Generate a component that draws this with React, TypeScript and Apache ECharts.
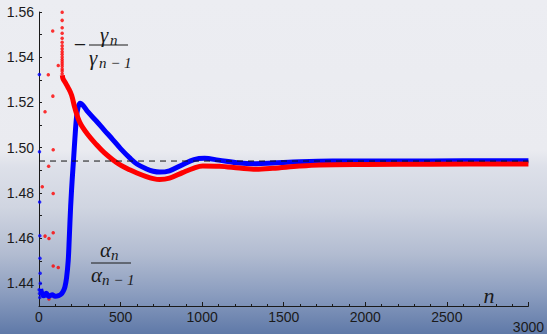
import React, { useEffect, useRef } from "react";
import * as echarts from "echarts";

// ---- data ----
const xTicks = [0, 500, 1000, 1500, 2000, 2500, 3000];
const yTickLabels = ["1.44", "1.46", "1.48", "1.50", "1.52", "1.54", "1.56"];
const limitValue = 1.4941;

// alpha_n / alpha_{n-1}: scattered first iterates
const alphaEarly: [number, number][] = [
  [2, 1.5324], [3, 1.4982], [4, 1.476], [5, 1.4611], [6, 1.4511], [7, 1.4445], [8, 1.44],
  [1, 1.4372], [3, 1.4355], [5, 1.4338],
];
// alpha_n / alpha_{n-1}: main curve
const alphaMain: [number, number][] = [
  [10, 1.4375], [20, 1.4352], [30, 1.4345], [45, 1.4356], [60, 1.4342], [80, 1.435],
  [100, 1.4343], [120, 1.4346], [135, 1.4352], [148, 1.4365], [159, 1.4385], [169, 1.4425],
  [179, 1.45], [185, 1.459], [194, 1.474], [204, 1.4865], [212, 1.495], [220, 1.504],
  [230, 1.5135], [240, 1.518], [252, 1.5197], [271, 1.5186], [300, 1.5158], [354, 1.5116],
  [400, 1.5078], [452, 1.5036], [500, 1.4996], [556, 1.4955], [600, 1.4928], [660, 1.4906],
  [700, 1.4896], [740, 1.4892], [800, 1.4898], [880, 1.4925], [950, 1.4947], [1015, 1.4953],
  [1100, 1.4945], [1228, 1.4932], [1330, 1.4929], [1432, 1.4932], [1600, 1.4938],
  [1800, 1.4941], [2200, 1.4941], [2600, 1.4942], [3000, 1.4942],
];
// -gamma_n / gamma_{n-1}: scattered first iterates
const gammaEarly: [number, number][] = [
  [20, 1.4827], [37, 1.5159], [37, 1.4609], [57, 1.5323], [59, 1.4918], [61, 1.4598],
  [61, 1.4331], [84, 1.5516], [85, 1.5228], [87, 1.4991], [87, 1.4797], [87, 1.4624],
  [87, 1.4477], [92, 1.4342], [118, 1.5363], [118, 1.447],
];
// -gamma_n / gamma_{n-1}: dense column of iterates before the curve settles
const gammaColumn: number[] = [
  1.5599, 1.5563, 1.553, 1.5506, 1.5484, 1.5466, 1.5451, 1.5437, 1.5424, 1.5413,
  1.5401, 1.539, 1.538, 1.537, 1.536, 1.5348, 1.5339, 1.5327,
];
const gammaColumnN = 142;
// -gamma_n / gamma_{n-1}: main curve
const gammaMain: [number, number][] = [
  [143, 1.532], [147, 1.5305], [159, 1.529], [179, 1.5265], [200, 1.5232], [220, 1.5175],
  [250, 1.5112], [299, 1.5058], [353, 1.5013], [400, 1.4978], [452, 1.4947], [500, 1.4923],
  [556, 1.4902], [600, 1.4888], [658, 1.4872], [700, 1.4863], [739, 1.4859], [800, 1.4865],
  [880, 1.489], [950, 1.491], [1004, 1.4919], [1106, 1.4918], [1228, 1.491], [1330, 1.4905],
  [1432, 1.4909], [1595, 1.4919], [1717, 1.4924], [2000, 1.4926], [2400, 1.4927],
  [3000, 1.4928],
];

const W = 547;
const H = 334;
const ink = "#1a1a1a";
const mathFont = '"Liberation Serif", "DejaVu Serif", serif';

function txt(text: string, x: number, y: number, size: number, italic: boolean, align = "left") {
  return {
    type: "text",
    silent: true,
    z: 10,
    style: {
      text,
      x,
      y,
      fill: ink,
      font: `${italic ? "italic " : ""}${size}px ${mathFont}`,
      align,
      textAlign: align,
      verticalAlign: "middle",
      textVerticalAlign: "middle",
    },
  };
}
function hline(x1: number, x2: number, y: number) {
  return {
    type: "line",
    silent: true,
    z: 10,
    shape: { x1, y1: y, x2, y2: y },
    style: { stroke: ink, lineWidth: 1 },
  };
}

export default function App() {
  const ref = useRef<HTMLDivElement>(null);
  useEffect(() => {
    if (!ref.current) return;
    const chart = echarts.init(ref.current, undefined, { renderer: "svg" });
    const columnData = gammaColumn.map((v) => [gammaColumnN, v]);
    chart.setOption({
      animation: false,
      backgroundColor: new echarts.graphic.LinearGradient(0, 0, 0, 1, [
        { offset: 0, color: "#ECEDF2" },
        { offset: 0.45, color: "#EAEBF0" },
        { offset: 0.5, color: "#DDE0E9" },
        { offset: 0.62, color: "#D0D5E1" },
        { offset: 0.76, color: "#B2BCD1" },
        { offset: 0.88, color: "#8B9DBF" },
        { offset: 1, color: "#5F79A8" },
      ]),
      textStyle: { fontFamily: '"Liberation Sans", Arial, sans-serif' },
      grid: { left: 39, right: 17, top: 12, bottom: 19, containLabel: false },
      xAxis: {
        type: "value",
        min: xTicks[0],
        max: xTicks[xTicks.length - 1],
        interval: 500,
        splitLine: { show: false },
        axisLine: { show: true, onZero: false, lineStyle: { color: ink, width: 1 } },
        axisTick: { show: true, inside: true, length: 4, lineStyle: { color: ink } },
        minorTick: { show: true, splitNumber: 5, length: 2, lineStyle: { color: ink } },
        axisLabel: {
          color: ink,
          fontSize: 14,
          margin: 4,
          formatter: (v: number) =>
            v === xTicks[xTicks.length - 1] ? `{low|${v}}` : String(v),
          rich: { low: { fontSize: 14, color: ink, padding: [10, 0, 0, 0] } },
        },
      },
      yAxis: {
        type: "value",
        min: 1.43,
        max: 1.56,
        interval: 0.01,
        splitLine: { show: false },
        axisLine: { show: true, onZero: false, lineStyle: { color: ink, width: 1 } },
        axisTick: { show: true, inside: true, length: 3, lineStyle: { color: ink } },
        axisLabel: {
          color: ink,
          fontSize: 14,
          margin: 5,
          formatter: (v: number) => {
            const s = v.toFixed(2);
            return yTickLabels.indexOf(s) >= 0 ? s : "";
          },
        },
      },
      series: [
        {
          type: "scatter",
          data: alphaEarly,
          symbolSize: 3.5,
          itemStyle: { color: "#0000FF" },
          silent: true,
        },
        {
          type: "line",
          data: alphaMain,
          showSymbol: false,
          smooth: 0.35,
          lineStyle: { color: "#0000FF", width: 5 },
          silent: true,
        },
        {
          type: "line",
          data: gammaMain,
          showSymbol: false,
          smooth: 0.35,
          lineStyle: { color: "#FF0000", width: 5 },
          silent: true,
        },
        {
          type: "scatter",
          data: columnData,
          symbolSize: 3.5,
          itemStyle: { color: "#FF0000" },
          silent: true,
        },
        {
          type: "scatter",
          data: gammaEarly,
          symbolSize: 3.5,
          itemStyle: { color: "#FF0000" },
          silent: true,
        },
        {
          type: "line",
          data: [
            [xTicks[0], limitValue],
            [xTicks[xTicks.length - 1], limitValue],
          ],
          showSymbol: false,
          lineStyle: { color: "#111", width: 1, type: [6, 5] },
          silent: true,
        },
      ],
      graphic: [
        // - gamma_n / gamma_{n-1}
        txt("\u2212", 80, 44, 22, false, "center"),
        txt("\u03B3", 100, 35, 21, true),
        txt("n", 110, 40, 15, true),
        hline(89, 128, 45),
        txt("\u03B3", 89, 58, 21, true),
        txt("n \u2212 1", 99, 63, 15, true),
        // alpha_n / alpha_{n-1}
        txt("\u03B1", 100, 250, 21, true),
        txt("n", 111, 255, 15, true),
        hline(91, 131, 263),
        txt("\u03B1", 91, 275, 21, true),
        txt("n \u2212 1", 102, 280, 15, true),
        // axis label n
        txt("n", 489, 295, 22, true, "center"),
      ],
    });
    return () => chart.dispose();
  }, []);
  return (
    <div
      ref={ref}
      style={{ position: "absolute", left: 0, top: 0, width: W, height: H }}
    />
  );
}
